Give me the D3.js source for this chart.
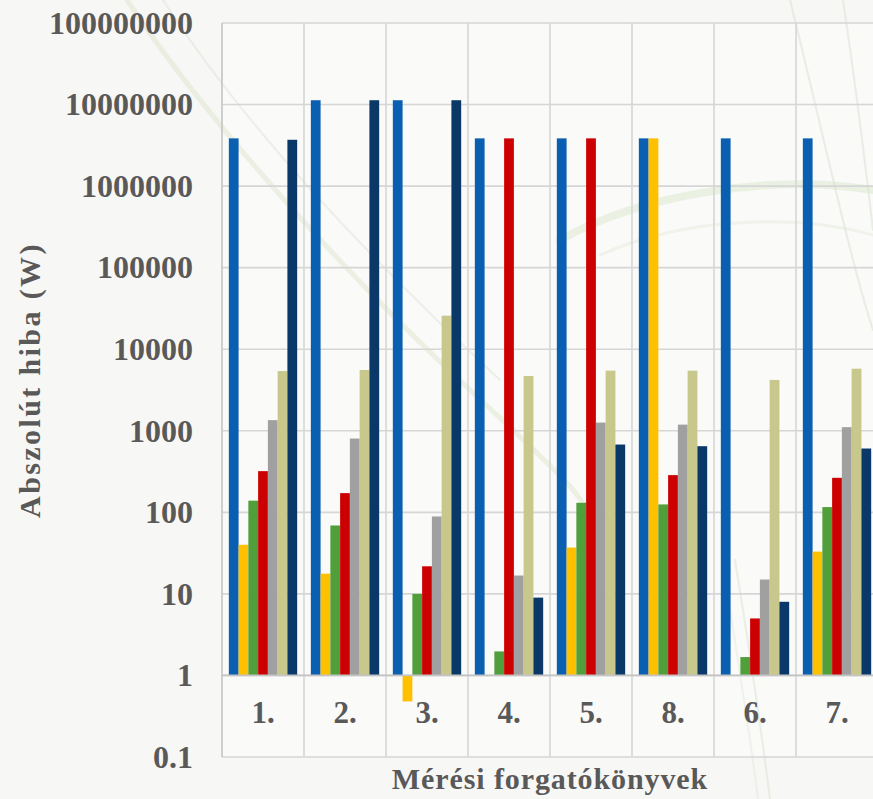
<!DOCTYPE html>
<html>
<head>
<meta charset="utf-8">
<script src="https://cdn.jsdelivr.net/npm/d3@7"></script>
<style>
	body { margin: 0; background: #f7f7f5; }
	#vis svg { display: block; }
	.tick text { font-family: 'Liberation Serif', 'Times New Roman', serif; font-weight: bold; }
</style>
</head>
<body>
<div id="vis"></div>
<script>
// scenario labels, in the order they are shown
var categories = ['1.', '2.', '3.', '4.', '5.', '8.', '6.', '7.'];

// absolute error (W) per series, one value per scenario (null = no bar)
var seriesBlue   = [3850000, 11300000, 11300000, 3850000, 3850000, 3850000, 3850000, 3850000];
var seriesYellow = [40, 17.7, 0.48, null, 37, 3850000, null, 33];
var seriesGreen  = [139, 69, 10, 1.97, 131, 125, 1.68, 116];
var seriesRed    = [320, 172, 21.8, 3850000, 3850000, 286, 5, 265];
var seriesGray   = [1350, 803, 89, 16.8, 1260, 1190, 15, 1107];
var seriesKhaki  = [5400, 5560, 25800, 4700, 5460, 5460, 4200, 5770];
var seriesNavy   = [3700000, 11300000, 11300000, 9, 678, 647, 8, 606];

var yTicks = [0.1, 1, 10, 100, 1000, 10000, 100000, 1000000, 10000000, 100000000];

var keys = ['blue', 'yellow', 'green', 'red', 'gray', 'khaki', 'navy'];
var seriesValues = [seriesBlue, seriesYellow, seriesGreen, seriesRed, seriesGray, seriesKhaki, seriesNavy];

var width = 873,
	height = 799;

var margin = {
	left: 222,
	top: 23,
	right: -5,
	bottom: 42
};

var drawWidth = width - margin.left - margin.right,
	drawHeight = height - margin.top - margin.bottom;

var textColor = '#595959',
	gridColor = '#d6d6d6',
	serif = "'Liberation Serif', 'Times New Roman', serif";

var color = d3.scaleOrdinal()
	.domain(keys)
	.range(['#0b5fb0', '#ffc000', '#519f3b', '#cc0000', '#a0a0a0', '#c8c78c', '#0a3868']);

var svg = d3.select('#vis')
	.append('svg')
	.attr('width', width)
	.attr('height', height)
	.style('overflow', 'hidden');

// plot area is a touch lighter than the slide
svg.append('rect')
	.attr('x', margin.left)
	.attr('y', margin.top)
	.attr('width', drawWidth)
	.attr('height', drawHeight)
	.attr('fill', '#fafaf9');

// faint decorative strokes of the slide background
var deco = svg.append('g')
	.attr('fill', 'none')
	.attr('stroke-linecap', 'round');

var decoPaths = [
	{ d: 'M127,0 C200,110 330,260 470,390 S560,480 590,510', w: 5, c: '#dde6cd', o: 0.5 },
	{ d: 'M163,0 C240,120 360,250 500,380', w: 2, c: '#d6dcd0', o: 0.4 },
	{ d: 'M560,240 C650,190 780,175 873,190', w: 8, c: '#d8e6c6', o: 0.45 },
	{ d: 'M600,255 C690,215 800,215 873,235', w: 3, c: '#dfe8d4', o: 0.4 },
	{ d: 'M790,0 C820,120 850,260 873,330', w: 2, c: '#d8dfcf', o: 0.5 },
	{ d: 'M843,0 C855,80 866,170 873,230', w: 2, c: '#d8dfcf', o: 0.5 },
	{ d: 'M735,560 C748,640 760,720 770,799', w: 2, c: '#dae2d0', o: 0.5 },
	{ d: 'M722,560 C735,640 748,720 758,799', w: 2, c: '#dee6d6', o: 0.4 }
];

deco.selectAll('path')
	.data(decoPaths)
	.enter().append('path')
		.attr('d', function(d) { return d.d; })
		.attr('stroke', function(d) { return d.c; })
		.attr('stroke-width', function(d) { return d.w; })
		.attr('opacity', function(d) { return d.o; });

var xScale = d3.scaleBand()
	.domain(categories)
	.range([0, drawWidth]);

var barScale = d3.scaleBand()
	.domain(keys)
	.range([0, xScale.bandwidth()])
	.paddingOuter(0.7);

var yScale = d3.scaleLog()
	.domain([0.1, 100000000])
	.range([drawHeight, 0]);

var g = svg.append('g')
	.attr('transform', 'translate(' + margin.left + ',' + margin.top + ')');

// horizontal grid
g.append('g')
	.selectAll('line')
	.data(yTicks)
	.enter().append('line')
		.attr('x1', 0)
		.attr('x2', drawWidth)
		.attr('y1', function(d) { return yScale(d); })
		.attr('y2', function(d) { return yScale(d); })
		.attr('stroke', gridColor)
		.attr('stroke-width', 1.6);

// vertical grid between scenarios
g.append('g')
	.selectAll('line')
	.data(categories.concat(['end']))
	.enter().append('line')
		.attr('x1', function(d, i) { return i * xScale.step(); })
		.attr('x2', function(d, i) { return i * xScale.step(); })
		.attr('y1', 0)
		.attr('y2', drawHeight)
		.attr('stroke', function(d, i) { return i == 0 ? '#c4c4c4' : gridColor; })
		.attr('stroke-width', 1.6);

// bars grow from the value 1 line
var base = yScale(1);

var groups = g.append('g')
	.selectAll('g')
	.data(keys)
	.enter().append('g')
		.attr('fill', function(d) { return color(d); });

groups.selectAll('rect')
	.data(function(d, k) {
		return seriesValues[k].map(function(v, i) {
			return { key: d, cat: categories[i], value: v };
		}).filter(function(d) { return d.value != null; });
	})
	.enter().append('rect')
		.attr('x', function(d) { return xScale(d.cat) + barScale(d.key); })
		.attr('width', barScale.bandwidth())
		.attr('y', function(d) { return Math.min(yScale(d.value), base); })
		.attr('height', function(d) { return Math.abs(base - yScale(d.value)); });

// axis line at 1
g.append('line')
	.attr('x1', 0)
	.attr('x2', drawWidth)
	.attr('y1', base)
	.attr('y2', base)
	.attr('stroke', '#c4c4c4')
	.attr('stroke-width', 1.8);

var yAxis = d3.axisLeft(yScale)
	.tickValues(yTicks)
	.tickSize(0)
	.tickPadding(29)
	.tickFormat(function(d) { return d < 1 ? '0.1' : d3.format('d')(d); });

var yAxisLabel = g.append('g')
	.attr('class', 'axis')
	.call(yAxis);

yAxisLabel.select('.domain').remove();
yAxisLabel.selectAll('text')
	.attr('fill', textColor)
	.attr('font-size', 32);

// scenario labels under the 1 line
g.append('g')
	.selectAll('text')
	.data(categories)
	.enter().append('text')
		.attr('x', function(d) { return xScale(d) + xScale.bandwidth() / 2; })
		.attr('y', base + 48)
		.attr('text-anchor', 'middle')
		.attr('font-family', serif)
		.attr('font-weight', 'bold')
		.attr('font-size', 31)
		.attr('fill', textColor)
		.text(function(d) { return d; });

svg.append('text')
	.attr('x', 550)
	.attr('y', 789)
	.attr('text-anchor', 'middle')
	.attr('font-family', serif)
	.attr('font-weight', 'bold')
	.attr('font-size', 30)
	.attr('letter-spacing', 0.9)
	.attr('fill', textColor)
	.text('Mérési forgatókönyvek');

svg.append('text')
	.attr('transform', 'translate(40,380) rotate(-90)')
	.attr('text-anchor', 'middle')
	.attr('font-family', serif)
	.attr('font-weight', 'bold')
	.attr('font-size', 30)
	.attr('letter-spacing', 2.4)
	.attr('fill', textColor)
	.text('Abszolút hiba (W)');
</script>
</body>
</html>
